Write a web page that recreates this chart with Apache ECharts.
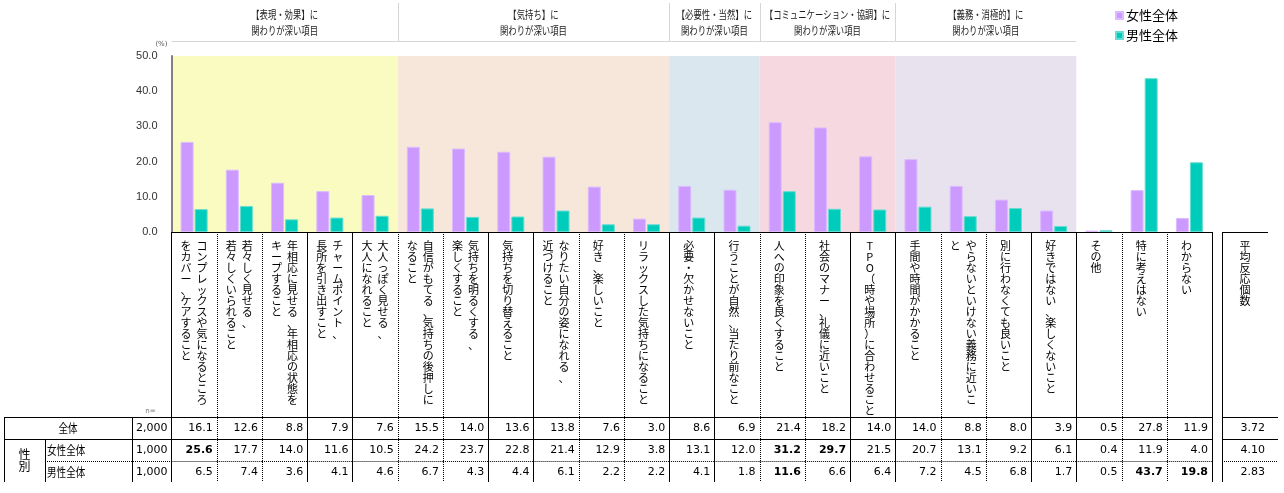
<!DOCTYPE html>
<html><head><meta charset="utf-8">
<script src="https://cdn.jsdelivr.net/npm/echarts@6/dist/echarts.min.js"></script>
<style>html,body{margin:0;padding:0;background:#fff}#c{width:1284px;height:493px}</style>
</head><body><div id="c"></div>
<script>
const categories = [
  'コンプレックスや気になるところ\nをカバー、ケアすること',
  '若々しく見せる、\n若々しくいられること',
  '年相応に見せる、年相応の状態を\nキープすること',
  'チャームポイント、\n長所を引き出すこと',
  '大人っぽく見せる、\n大人になれること',
  '自信がもてる、気持ちの後押しに\nなること',
  '気持ちを明るくする、\n楽しくすること',
  '気持ちを切り替えること',
  'なりたい自分の姿になれる、\n近づけること',
  '好き、楽しいこと',
  'リラックスした気持ちになること',
  '必要・欠かせないこと',
  '行うことが自然、当たり前なこと',
  '人への印象を良くすること',
  '社会のマナー、礼儀に近いこと',
  'TPO（時や場所）に合わせること',
  '手間や時間がかかること',
  'やらないといけない義務に近いこ\nと',
  '別に行わなくても良いこと',
  '好きではない、楽しくないこと',
  'その他',
  '特に考えはない',
  'わからない'
];
const groupNames = [
  '【表現・効果】に\n関わりが深い項目',
  '【気持ち】に\n関わりが深い項目',
  '【必要性・当然】に\n関わりが深い項目',
  '【コミュニケーション・協調】に\n関わりが深い項目',
  '【義務・消極的】に\n関わりが深い項目'
];
const groupSizes = [5, 6, 2, 3, 4];
const female = [25.6,17.7,14.0,11.6,10.5,24.2,23.7,22.8,21.4,12.9,3.8,13.1,12.0,31.2,29.7,21.5,20.7,13.1,9.2,6.1,0.4,11.9,4.0];
const male   = [6.5,7.4,3.6,4.1,4.6,6.7,4.3,4.4,6.1,2.2,2.2,4.1,1.8,11.6,6.6,6.4,7.2,4.5,6.8,1.7,0.5,43.7,19.8];
const total  = [16.1,12.6,8.8,7.9,7.6,15.5,14.0,13.6,13.8,7.6,3.0,8.6,6.9,21.4,18.2,14.0,14.0,8.8,8.0,3.9,0.5,27.8,11.9];
const femaleBold = [0, 13, 14];
const maleBold = [13, 21, 22];
const rowLabels = ['全体', '女性全体', '男性全体'];
const rowN = ['2,000', '1,000', '1,000'];
const sideLabel = '性別';
const avgLabel = '平均反応個数';
const avgValues = ['3.72', '4.10', '2.83'];
const seriesNames = ['女性全体', '男性全体'];

const bandColors = ['#F9FBC1', '#F7E7DA', '#DAE7EF', '#F5D8E0', '#E8E2EE'];
const JP = '"Noto Sans CJK JP"';
const NUM = '"DejaVu Sans"';

const groupData = [];
{ let s = 0; groupSizes.forEach((n, k) => { groupData.push([s, s + n - 1, k]); s += n; }); }

function vline(x, y1, y2, dotted) {
  x = Math.round(x) + 0.5;
  return {type: 'line', shape: {x1: x, y1: y1, x2: x, y2: y2},
    style: {stroke: '#000', lineWidth: 1, lineDash: dotted ? [1, 1] : null}};
}
function hline(x1, x2, y, dotted) {
  y = Math.round(y) + 0.5;
  return {type: 'line', shape: {x1: x1, y1: y, x2: x2, y2: y},
    style: {stroke: '#000', lineWidth: 1, lineDash: dotted ? [1, 1] : null}};
}
function txt(x, y, text, font, align, vAlign, extra) {
  return Object.assign({type: 'text', x: x, y: y, style: {text: text, font: font, fill: '#000',
    textAlign: align, textVerticalAlign: vAlign}}, extra || {});
}

function renderBand(params, api) {
  const s = api.value(0), e = api.value(1), k = api.value(2);
  const w = api.size([1, 0])[0];
  const p0 = api.coord([s, 50]), p1 = api.coord([e, 0]);
  const x0 = p0[0] - w / 2, x1 = p1[0] + w / 2;
  const top = p0[1], bottom = p1[1];
  const ch = [
    {type: 'rect', shape: {x: x0, y: top, width: x1 - x0, height: bottom - top}, style: {fill: bandColors[k]}},
    {type: 'text', x: (x0 + x1) / 2, y: top - 33, scaleX: 0.76,
      style: {text: groupNames[k], font: '11px ' + JP, fill: '#222', textAlign: 'center',
        textVerticalAlign: 'middle', lineHeight: 15.5}},
    {type: 'line', shape: {x1: x0, y1: Math.round(top - 15) + 0.5, x2: x1, y2: Math.round(top - 15) + 0.5},
      style: {stroke: '#D6D6D6', lineWidth: 1}}
  ];
  if (k < groupSizes.length - 1) {
    const xx = Math.round(x1) + 0.5;
    ch.push({type: 'line', shape: {x1: xx, y1: top - 53, x2: xx, y2: top - 15}, style: {stroke: '#D6D6D6', lineWidth: 1}});
  }
  return {type: 'group', children: ch};
}

function renderCell(params, api) {
  const i = params.dataIndex;
  const w = api.size([1, 0])[0];
  const c = api.coord([i, 0]);
  const cx = c[0], y0 = c[1];
  const xL = cx - w / 2, xR = cx + w / 2;
  const rT = y0 + 185, r1 = y0 + 207, r2 = y0 + 229, rB = y0 + 250;
  const rowC = [y0 + 196, y0 + 218.5, y0 + 240];
  const ch = [];
  const lines = categories[i].split('\n');
  const pos = lines.length === 2 ? [cx + 8, cx - 8] : [cx - 3];
  lines.forEach((ln, j) => {
    ch.push({type: 'text', x: pos[j], y: y0 + 8,
      style: {text: Array.from(ln).join('\n'), font: '11px ' + JP, fill: '#000',
        textAlign: 'center', textVerticalAlign: 'top', lineHeight: 11}});
  });
  const solid = (i % 4) >= 2 || i === categories.length - 1;
  ch.push(vline(xR, y0, rB, !solid));
  ch.push(hline(xL, xR, rT, false));
  ch.push(hline(xL, xR, r1, false));
  ch.push(hline(xL, xR, r2, true));
  const vals = [total[i], female[i], male[i]];
  const bolds = [false, femaleBold.includes(i), maleBold.includes(i)];
  vals.forEach((v, r) => {
    ch.push(txt(xR - 4, rowC[r], v.toFixed(1), (bolds[r] ? 'bold ' : '') + '11px ' + NUM, 'right', 'middle'));
  });
  if (i === 0) {
    const xa = xL - 167.5, xb = xL - 126.5, xn = xL - 39.5;
    ch.push(vline(xL - 1, y0, rB, false));
    ch.push(vline(xa, rT, rB, false));
    ch.push(vline(xb, r1, rB, false));
    ch.push(vline(xn, rT, rB, false));
    ch.push(hline(xa, xL, rT, false));
    ch.push(hline(xa, xL, r1, false));
    ch.push(hline(xb, xL, r2, true));
    ch.push({type: 'text', x: xL - 21, y: y0 + 179, style: {text: 'n=', font: '7px ' + NUM, fill: '#777', textAlign: 'center', textVerticalAlign: 'middle'}});
    ch.push(txt((xa + xn) / 2, rowC[0], rowLabels[0], '12px ' + JP, 'center', 'middle', {scaleX: 0.8}));
    ch.push(txt(xb + 2, rowC[1], rowLabels[1], '12px ' + JP, 'left', 'middle', {scaleX: 0.8}));
    ch.push(txt(xb + 2, rowC[2], rowLabels[2], '12px ' + JP, 'left', 'middle', {scaleX: 0.8}));
    ch.push({type: 'text', x: (xa + xb) / 2, y: (r1 + rB) / 2,
      style: {text: Array.from(sideLabel).join('\n'), font: '12px ' + JP, fill: '#000',
        textAlign: 'center', textVerticalAlign: 'middle', lineHeight: 12}});
    rowN.forEach((n, r) => ch.push(txt(xL - 4, rowC[r], n, '11px ' + NUM, 'right', 'middle')));
  }
  if (i === categories.length - 1) {
    const g0 = xR + 10, g1 = xR + 56;
    ch.push(vline(g0, y0, rB, false));
    ch.push(hline(g0, g1, y0, false));
    ch.push(hline(g0, g1 + 10, rT, false));
    ch.push(hline(g0, g1 + 10, r1, false));
    ch.push(hline(g0, g1 + 10, r2, true));
    ch.push({type: 'text', x: (g0 + g1) / 2, y: y0 + 8,
      style: {text: Array.from(avgLabel).join('\n'), font: '11px ' + JP, fill: '#000',
        textAlign: 'center', textVerticalAlign: 'top', lineHeight: 11}});
    avgValues.forEach((v, r) => ch.push(txt(g1 - 3, rowC[r], v, '11px ' + NUM, 'right', 'middle')));
  }
  return {type: 'group', children: ch};
}

const chart = echarts.init(document.getElementById('c'), null, {renderer: 'canvas'});
chart.setOption({
  animation: false,
  backgroundColor: '#fff',
  legend: {
    orient: 'vertical', left: 1110, top: 4, itemWidth: 7, itemHeight: 7, itemGap: 7,
    icon: 'rect', data: seriesNames,
    textStyle: {fontFamily: JP, fontSize: 13, color: '#000', padding: [0, 0, 0, -2]}
  },
  grid: {left: 171.5, right: 72, top: 56, bottom: 261, containLabel: false},
  xAxis: {
    type: 'category', data: categories,
    axisLine: {show: true, lineStyle: {color: '#000', width: 1}},
    axisTick: {show: false}, axisLabel: {show: false}, splitLine: {show: false}
  },
  yAxis: {
    type: 'value', min: 0, max: 50, interval: 10,
    name: '(%)', nameGap: 8, nameLocation: 'end',
    nameTextStyle: {fontFamily: NUM, fontSize: 7, color: '#555', align: 'right', padding: [0, 4, 0, 0]},
    axisLine: {show: true, lineStyle: {color: '#808080', width: 2}},
    axisTick: {show: false},
    axisLabel: {formatter: v => v.toFixed(1), fontFamily: '"Liberation Sans"', fontSize: 11, color: '#333', margin: 14},
    splitLine: {show: false}
  },
  series: [
    {type: 'custom', renderItem: renderBand, data: groupData, encode: {x: [0, 1]}, z: 0, silent: true, clip: false},
    {type: 'bar', name: seriesNames[0], data: female, barWidth: 13, barGap: '8%', z: 3,
      itemStyle: {color: '#CC99FF', borderColor: '#DDBBFF', borderWidth: 1}},
    {type: 'bar', name: seriesNames[1], data: male, barWidth: 13, z: 3,
      itemStyle: {color: '#00CCBB', borderColor: '#66DDD2', borderWidth: 1}},
    {type: 'custom', renderItem: renderCell, data: categories.map((c, i) => [i, 0]), encode: {x: 0, y: 1}, z: 4, silent: true, clip: false}
  ]
});
</script>
</body></html>
